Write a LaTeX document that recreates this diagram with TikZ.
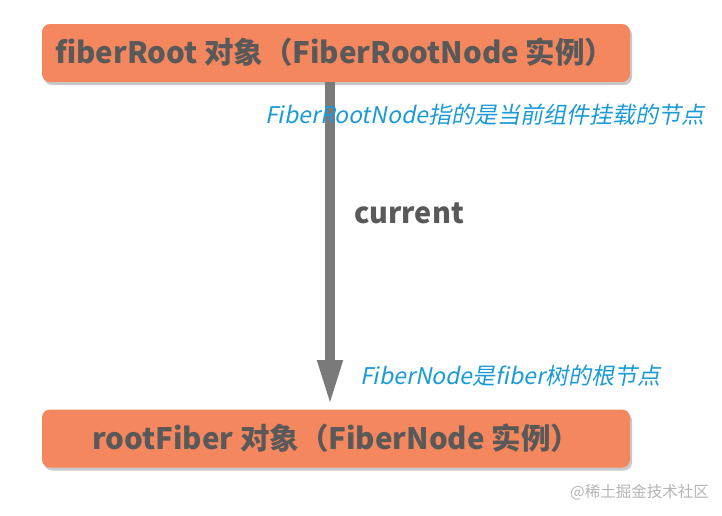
\documentclass[tikz,border=0pt]{standalone}
\usepackage{fontspec}
\setmainfont{Noto Sans CJK SC}
\newfontfamily\cjkslant[FakeSlant=0.2]{Noto Sans CJK SC}
\usetikzlibrary{arrows.meta,shadows,positioning}
\definecolor{boxfill}{HTML}{F5875F}
\definecolor{txtgray}{HTML}{595959}
\definecolor{notblue}{HTML}{1A9BD7}
\definecolor{arrowgray}{HTML}{7A7A7A}
\definecolor{wm}{HTML}{B5B5B5}
\tikzset{
  objbox/.style={fill=boxfill, rounded corners=8pt, minimum width=588pt, minimum height=58pt,
    inner sep=0pt, drop shadow={shadow xshift=2pt, shadow yshift=-3pt, opacity=0.35, fill=black!60}},
  objtext/.style={text=txtgray, font=\fontsize{29.5}{31}\selectfont\bfseries, anchor=west, inner sep=0pt},
  note/.style={text=notblue, font=\cjkslant\fontsize{23}{25}\selectfont, anchor=west, inner sep=0pt},
  link/.style={draw=arrowgray, line width=10pt, -{Triangle[width=23pt,length=46pt]}, arrowgray}
}
\begin{document}
\begin{tikzpicture}[x=1pt,y=-1pt]
\useasboundingbox (0,0) rectangle (722,515);
\fill[white] (0,0) rectangle (722,515);
\node[objbox] (top) at (336,53) {};
\node[objbox] (bot) at (336,438.5) {};
\node[objtext] (toptext) at (55,52) {fiberRoot 对象（FiberRootNode 实例）};
\node[objtext] (bottext) at (92,438) {rootFiber 对象（FiberNode 实例）};
\coordinate (as) at (330,82);
\coordinate (ae) at (330,406);
\draw[link] (as) -- (ae);
\node[note] (n1) at (265,115) {FiberRootNode指的是当前组件挂载的节点};
\node[text=txtgray, font=\fontsize{28.8}{30}\selectfont\bfseries, anchor=west, inner sep=0pt] (cur) at (354,213) {current};
\node[note] (n2) at (360,376) {FiberNode是fiber树的根节点};
\node[text=wm, font=\fontsize{15.5}{17}\selectfont, anchor=west, inner sep=0pt] (wmk) at (570,492) {@稀土掘金技术社区};
\end{tikzpicture}
\end{document}
